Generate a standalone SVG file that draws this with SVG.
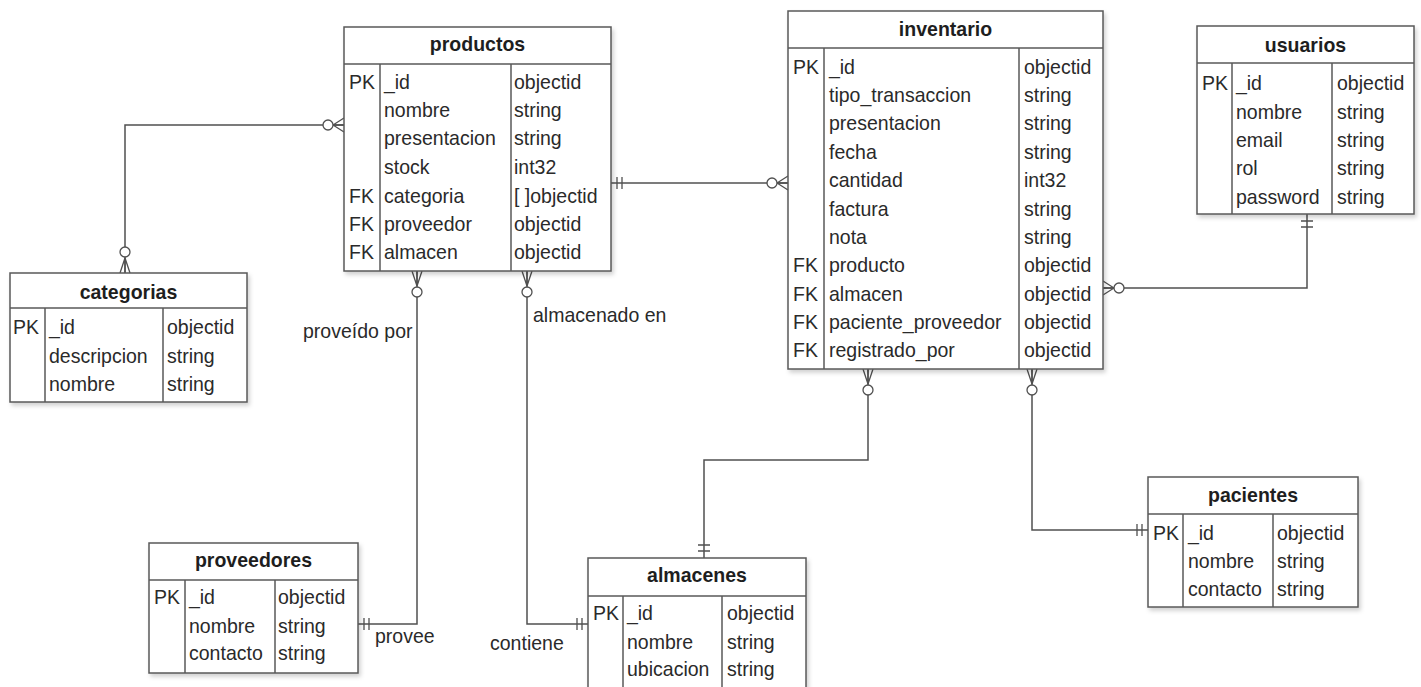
<svg xmlns="http://www.w3.org/2000/svg" width="1421" height="687" viewBox="0 0 1421 687">
  <style>
    .box { fill: #ffffff; stroke: #5a5a5a; stroke-width: 1.5; filter: url(#shadow); }
    .div { stroke: #5a5a5a; stroke-width: 1.5; fill: none; }
    text { transform-box: fill-box; }
    .title { font-family: "Liberation Sans", Arial, sans-serif; font-size: 21px; font-weight: bold; fill: #1e1e1e; text-anchor: middle; transform-origin: 50% 50%; transform: scaleX(0.93); }
    .t, .lbl { font-family: "Liberation Sans", Arial, sans-serif; font-size: 21px; fill: #2a2a2a; transform-origin: 0 50%; transform: scaleX(0.93); }
    .conn { fill: none; stroke: #505050; stroke-width: 1.5; }
    .mk { fill: #ffffff; stroke: #505050; stroke-width: 1.3; }
  </style>
  <defs>
    <filter id="shadow" x="-5%" y="-5%" width="115%" height="115%">
      <feDropShadow dx="2" dy="3" stdDeviation="2" flood-color="#000" flood-opacity="0.18"/>
    </filter>
    <!-- zero-or-many, approached horizontally -->
    <marker id="manyH" markerUnits="userSpaceOnUse" viewBox="-30 -12 32 24" refX="0" refY="0" markerWidth="32" markerHeight="24" orient="auto-start-reverse" overflow="visible">
      <path class="mk" d="M-11,0 L0,-7 M-11,0 L0,7 M-11,0 L0,0"/>
      <circle class="mk" cx="-16" cy="0" r="5"/>
    </marker>
    <!-- zero-or-many, approached vertically -->
    <marker id="manyV" markerUnits="userSpaceOnUse" viewBox="-30 -12 32 24" refX="0" refY="0" markerWidth="32" markerHeight="24" orient="auto-start-reverse" overflow="visible">
      <path class="mk" d="M-15,0 L0,-5 M-15,0 L0,5 M-15,0 L0,0"/>
      <circle class="mk" cx="-21" cy="0" r="5"/>
    </marker>
    <!-- exactly one, horizontal -->
    <marker id="oneH" markerUnits="userSpaceOnUse" viewBox="-30 -12 32 24" refX="0" refY="0" markerWidth="32" markerHeight="24" orient="auto-start-reverse" overflow="visible">
      <path class="mk" d="M-6,-6 V6 M-11,-6 V6"/>
    </marker>
    <!-- exactly one, vertical -->
    <marker id="oneV" markerUnits="userSpaceOnUse" viewBox="-30 -12 32 24" refX="0" refY="0" markerWidth="32" markerHeight="24" orient="auto-start-reverse" overflow="visible">
      <path class="mk" d="M-7,-6 V6 M-13,-6 V6"/>
    </marker>
  </defs>

  <rect width="1421" height="687" fill="#ffffff"/>

  <!-- relationships -->
  <g id="connectors">
    <path class="conn" d="M125,273 V125 H344" marker-start="url(#manyV)" marker-end="url(#manyH)"/>
    <path class="conn" d="M611,183 H788" marker-start="url(#oneH)" marker-end="url(#manyH)"/>
    <path class="conn" d="M417,271 V624 H358" marker-start="url(#manyV)" marker-end="url(#oneH)"/>
    <path class="conn" d="M527,271 V624 H588" marker-start="url(#manyV)" marker-end="url(#oneH)"/>
    <path class="conn" d="M868,369 V460 H704 V558" marker-start="url(#manyV)" marker-end="url(#oneV)"/>
    <path class="conn" d="M1032,369 V530 H1148" marker-start="url(#manyV)" marker-end="url(#oneH)"/>
    <path class="conn" d="M1103,288 H1307 V214" marker-start="url(#manyH)" marker-end="url(#oneV)"/>
    <text class="lbl" x="303" y="338">proveído por</text>
    <text class="lbl" x="533" y="322">almacenado en</text>
    <text class="lbl" x="375" y="643">provee</text>
    <text class="lbl" x="490" y="650">contiene</text>
  </g>

  <!-- productos -->
  <g id="productos">
    <rect class="box" x="344" y="27" width="267" height="244"/>
    <path class="div" d="M344,64 H611 M380,64 V271 M511,64 V271"/>
    <text class="title" x="477.5" y="51">productos</text>
    <text class="t" x="349" y="89">PK</text>
    <text class="t" x="349" y="203">FK</text>
    <text class="t" x="349" y="231">FK</text>
    <text class="t" x="349" y="259">FK</text>
    <text class="t" x="384" y="89">_id</text>
    <text class="t" x="384" y="117">nombre</text>
    <text class="t" x="384" y="145">presentacion</text>
    <text class="t" x="384" y="174">stock</text>
    <text class="t" x="384" y="203">categoria</text>
    <text class="t" x="384" y="231">proveedor</text>
    <text class="t" x="384" y="259">almacen</text>
    <text class="t" x="514" y="89">objectid</text>
    <text class="t" x="514" y="117">string</text>
    <text class="t" x="514" y="145">string</text>
    <text class="t" x="514" y="174">int32</text>
    <text class="t" x="514" y="203">[ ]objectid</text>
    <text class="t" x="514" y="231">objectid</text>
    <text class="t" x="514" y="259">objectid</text>
  </g>

  <!-- inventario -->
  <g id="inventario">
    <rect class="box" x="788" y="11" width="315" height="358"/>
    <path class="div" d="M788,48 H1103 M824,48 V369 M1019,48 V369"/>
    <text class="title" x="945.5" y="36">inventario</text>
    <text class="t" x="793" y="74">PK</text>
    <text class="t" x="793" y="272">FK</text>
    <text class="t" x="793" y="301">FK</text>
    <text class="t" x="793" y="329">FK</text>
    <text class="t" x="793" y="357">FK</text>
    <text class="t" x="829" y="74">_id</text>
    <text class="t" x="829" y="102">tipo_transaccion</text>
    <text class="t" x="829" y="130">presentacion</text>
    <text class="t" x="829" y="159">fecha</text>
    <text class="t" x="829" y="187">cantidad</text>
    <text class="t" x="829" y="216">factura</text>
    <text class="t" x="829" y="244">nota</text>
    <text class="t" x="829" y="272">producto</text>
    <text class="t" x="829" y="301">almacen</text>
    <text class="t" x="829" y="329">paciente_proveedor</text>
    <text class="t" x="829" y="357">registrado_por</text>
    <text class="t" x="1024" y="74">objectid</text>
    <text class="t" x="1024" y="102">string</text>
    <text class="t" x="1024" y="130">string</text>
    <text class="t" x="1024" y="159">string</text>
    <text class="t" x="1024" y="187">int32</text>
    <text class="t" x="1024" y="216">string</text>
    <text class="t" x="1024" y="244">string</text>
    <text class="t" x="1024" y="272">objectid</text>
    <text class="t" x="1024" y="301">objectid</text>
    <text class="t" x="1024" y="329">objectid</text>
    <text class="t" x="1024" y="357">objectid</text>
  </g>

  <!-- usuarios -->
  <g id="usuarios">
    <rect class="box" x="1197" y="26" width="217" height="188"/>
    <path class="div" d="M1197,63 H1414 M1232,63 V214 M1332,63 V214"/>
    <text class="title" x="1305.5" y="52">usuarios</text>
    <text class="t" x="1202" y="90">PK</text>
    <text class="t" x="1236" y="90">_id</text>
    <text class="t" x="1236" y="119">nombre</text>
    <text class="t" x="1236" y="147">email</text>
    <text class="t" x="1236" y="175">rol</text>
    <text class="t" x="1236" y="204">password</text>
    <text class="t" x="1337" y="90">objectid</text>
    <text class="t" x="1337" y="119">string</text>
    <text class="t" x="1337" y="147">string</text>
    <text class="t" x="1337" y="175">string</text>
    <text class="t" x="1337" y="204">string</text>
  </g>

  <!-- categorias -->
  <g id="categorias">
    <rect class="box" x="10" y="273" width="237" height="129"/>
    <path class="div" d="M10,308 H247 M45,308 V402 M163,308 V402"/>
    <text class="title" x="128.5" y="299">categorias</text>
    <text class="t" x="13" y="334">PK</text>
    <text class="t" x="49" y="334">_id</text>
    <text class="t" x="49" y="363">descripcion</text>
    <text class="t" x="49" y="391">nombre</text>
    <text class="t" x="167" y="334">objectid</text>
    <text class="t" x="167" y="363">string</text>
    <text class="t" x="167" y="391">string</text>
  </g>

  <!-- proveedores -->
  <g id="proveedores">
    <rect class="box" x="149" y="543" width="209" height="130"/>
    <path class="div" d="M149,580 H358 M185,580 V673 M275,580 V673"/>
    <text class="title" x="253.5" y="567">proveedores</text>
    <text class="t" x="154" y="604">PK</text>
    <text class="t" x="189" y="604">_id</text>
    <text class="t" x="189" y="633">nombre</text>
    <text class="t" x="189" y="660">contacto</text>
    <text class="t" x="278" y="604">objectid</text>
    <text class="t" x="278" y="633">string</text>
    <text class="t" x="278" y="660">string</text>
  </g>

  <!-- almacenes -->
  <g id="almacenes">
    <rect class="box" x="588" y="558" width="218" height="150"/>
    <path class="div" d="M588,596 H806 M623,596 V708 M722,596 V708"/>
    <text class="title" x="697" y="582">almacenes</text>
    <text class="t" x="593" y="620">PK</text>
    <text class="t" x="627" y="620">_id</text>
    <text class="t" x="627" y="649">nombre</text>
    <text class="t" x="627" y="676">ubicacion</text>
    <text class="t" x="727" y="620">objectid</text>
    <text class="t" x="727" y="649">string</text>
    <text class="t" x="727" y="676">string</text>
  </g>

  <!-- pacientes -->
  <g id="pacientes">
    <rect class="box" x="1148" y="477" width="210" height="130"/>
    <path class="div" d="M1148,514 H1358 M1183,514 V607 M1273,514 V607"/>
    <text class="title" x="1253" y="502">pacientes</text>
    <text class="t" x="1153" y="540">PK</text>
    <text class="t" x="1188" y="540">_id</text>
    <text class="t" x="1188" y="568">nombre</text>
    <text class="t" x="1188" y="596">contacto</text>
    <text class="t" x="1277" y="540">objectid</text>
    <text class="t" x="1277" y="568">string</text>
    <text class="t" x="1277" y="596">string</text>
  </g>
</svg>
